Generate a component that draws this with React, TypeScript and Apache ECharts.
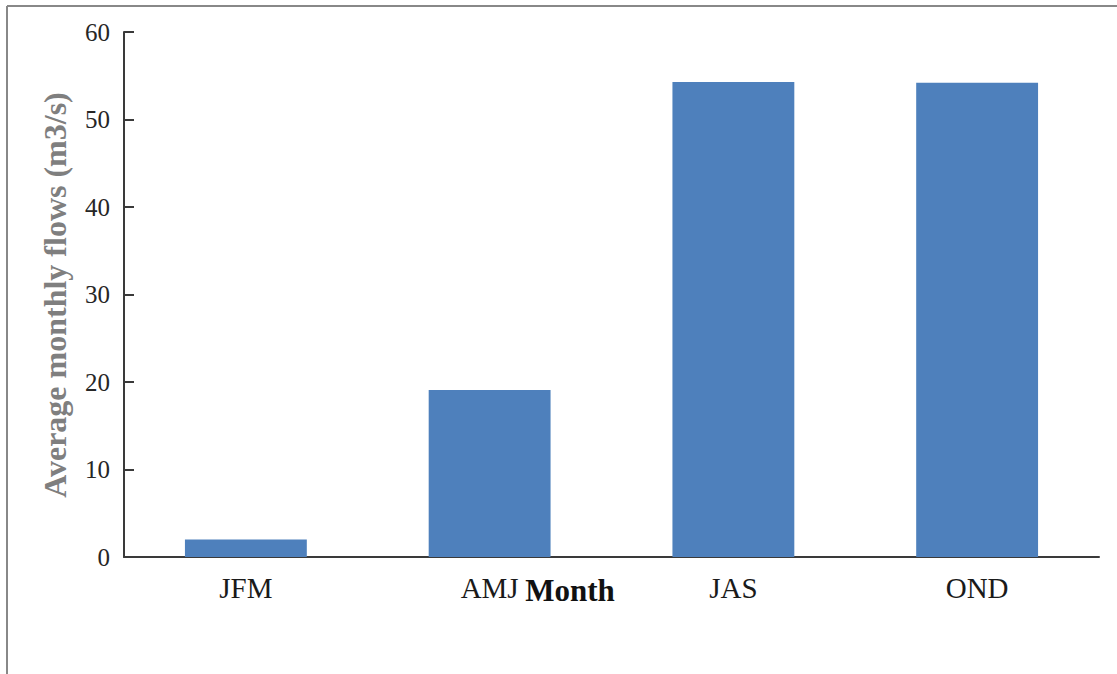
import React, { useEffect, useRef } from 'react';
import * as echarts from 'echarts';

const categories = ['JFM', 'AMJ', 'JAS', 'OND'];
const flows = [2.0, 19.1, 54.3, 54.2];
const yTicks = [0, 10, 20, 30, 40, 50, 60];

const serif = '"Liberation Serif", "Times New Roman", serif';

export default function App() {
  const ref = useRef<HTMLDivElement>(null);
  useEffect(() => {
    if (!ref.current) return;
    const chart = echarts.init(ref.current, undefined, { renderer: 'svg' });
    chart.setOption({
      animation: false,
      backgroundColor: '#fff',
      grid: { left: 124, right: 18, top: 32, bottom: 117 },
      xAxis: {
        type: 'category',
        data: categories,
        axisLine: { lineStyle: { color: '#3a3a3a', width: 2 } },
        axisTick: { show: false },
        axisLabel: { color: '#1a1a1a', fontFamily: serif, fontSize: 29, margin: 16 },
      },
      yAxis: {
        type: 'value',
        min: yTicks[0],
        max: yTicks[yTicks.length - 1],
        interval: 10,
        splitLine: { show: false },
        axisLine: { show: true, lineStyle: { color: '#3a3a3a', width: 2 } },
        axisTick: { show: true, inside: true, length: 10, lineStyle: { color: '#3a3a3a', width: 2 } },
        axisLabel: { color: '#262626', fontFamily: serif, fontSize: 25, margin: 14 },
      },
      series: [
        {
          type: 'bar',
          data: flows,
          barWidth: '50%',
          itemStyle: { color: '#4e80bc' },
        },
      ],
      graphic: [
        {
          type: 'line',
          shape: { x1: 7, y1: 6, x2: 1117, y2: 6 },
          style: { stroke: '#888', lineWidth: 2 },
        },
        {
          type: 'line',
          shape: { x1: 7, y1: 6, x2: 7, y2: 674 },
          style: { stroke: '#888', lineWidth: 2 },
        },
        {
          type: 'text',
          x: 55,
          y: 295,
          rotation: Math.PI / 2,
          style: {
            text: 'Average monthly flows (m3/s)',
            fill: '#7f7f7f',
            font: `bold 32px ${serif}`,
            textAlign: 'center',
            textVerticalAlign: 'middle',
          },
        },
        {
          type: 'text',
          x: 570,
          y: 590,
          style: {
            text: 'Month',
            fill: '#111',
            font: `bold 31px ${serif}`,
            textAlign: 'center',
            textVerticalAlign: 'middle',
          },
        },
      ],
    });
    return () => chart.dispose();
  }, []);
  return <div ref={ref} style={{ position: 'fixed', left: 0, top: 0, width: 1117, height: 674 }} />;
}
